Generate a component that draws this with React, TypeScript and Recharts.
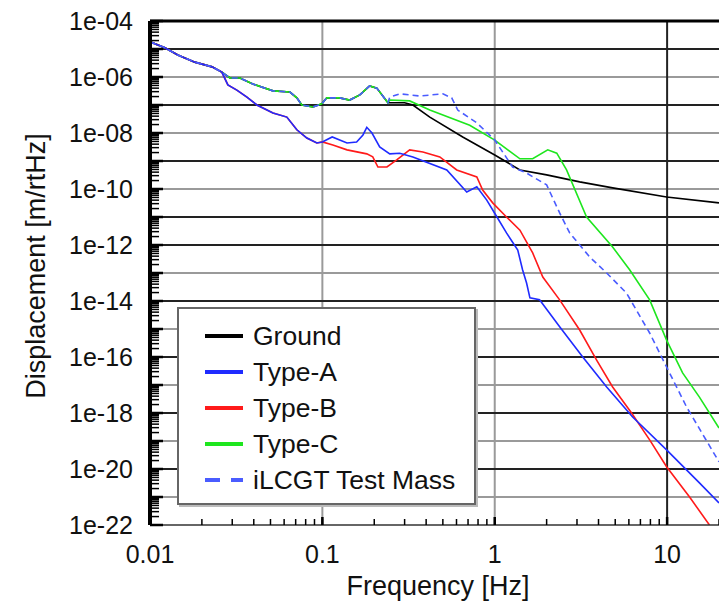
import { CartesianGrid, Legend, Line, LineChart, ReferenceLine, XAxis, YAxis } from 'recharts';

type Pt = [number, number];

// shared low-frequency part (all stages follow the ground here)
const lowShared: Pt[] = [
    [0.01, 1.8e-5], [0.0122, 1.1e-5], [0.0145, 6.1e-6], [0.0182, 3.4e-6],
    [0.0229, 2.3e-6], [0.0261, 1.5e-6],
];

// ground / Type-C / test mass plateau below 0.25 Hz
const upperPath: Pt[] = [
    [0.0291, 9.2e-7], [0.0332, 9.2e-7], [0.0395, 5.6e-7], [0.0517, 3.2e-7],
    [0.0648, 2.9e-7], [0.0711, 1.8e-7], [0.076, 1.0e-7], [0.0881, 8.5e-8],
    [0.0993, 1.1e-7], [0.106, 1.8e-7], [0.126, 1.8e-7], [0.144, 1.5e-7],
    [0.165, 2.3e-7], [0.188, 4.8e-7], [0.207, 4.0e-7], [0.24, 1.2e-7],
];

// Type-A / Type-B before they separate
const lowerPath: Pt[] = [
    [0.0283, 5.2e-7], [0.0319, 3.4e-7], [0.0365, 1.9e-7], [0.0417, 1.0e-7],
    [0.0517, 5.2e-8], [0.0622, 3.7e-8], [0.0711, 1.3e-8], [0.0813, 6.6e-9],
    [0.0929, 4.4e-9], [0.1, 4.8e-9],
];

const groundHigh: Pt[] = [
    [0.246, 1.2e-7], [0.3, 1.2e-7], [0.335, 1.0e-7], [0.42, 3.7e-8], [0.652, 7.2e-9],
    [1.0, 1.64e-9], [1.4, 4.8e-10], [2.0, 3.2e-10], [3.11, 1.8e-10],
    [4.83, 1.1e-10], [9.93, 5.2e-11], [20, 3.2e-11],
];

const typeCHigh: Pt[] = [
    [0.246, 1.5e-7], [0.321, 1.4e-7], [0.42, 6.6e-8], [0.716, 1.9e-8],
    [1.0, 5.6e-9], [1.4, 1.2e-9], [1.66, 1.2e-9], [2.03, 2.5e-9],
    [2.29, 1.9e-9], [2.61, 4.8e-10], [3.41, 1.0e-11], [4.83, 8.5e-13],
    [6.06, 1.3e-13], [7.92, 1.1e-14], [9.93, 4.0e-16], [12.3, 2.7e-17],
    [15.4, 3.7e-18], [20, 2.9e-19],
];

const testMassHigh: Pt[] = [
    [0.246, 1.9e-7], [0.281, 2.5e-7], [0.367, 2.1e-7], [0.5, 2.5e-7],
    [0.563, 1.8e-7], [0.61, 6.6e-8], [0.787, 2.3e-8], [1.0, 5.6e-9],
    [1.27, 6.1e-10], [1.53, 3.7e-10], [2.0, 1.4e-10], [2.38, 1.4e-11],
    [2.72, 2.7e-12], [3.56, 3.7e-13], [4.46, 1.0e-13], [5.82, 1.9e-14],
    [7.92, 7.2e-16], [9.93, 4.4e-17], [13.0, 1.6e-18], [20, 1.8e-20],
];

const typeBHigh: Pt[] = [
    [0.115, 3.7e-9], [0.139, 2.5e-9], [0.181, 1.8e-9], [0.196, 1.4e-9],
    [0.21, 6.1e-10], [0.237, 6.1e-10], [0.27, 1.1e-9], [0.321, 2.5e-9],
    [0.383, 2.1e-9], [0.48, 1.4e-9], [0.602, 4.8e-10], [0.787, 2.7e-10],
    [0.851, 9.2e-11], [0.973, 3.2e-11], [1.17, 1.0e-11], [1.4, 3.4e-12],
    [1.66, 5.2e-13], [1.9, 7.2e-14], [2.38, 1.1e-14], [3.11, 9.2e-16],
    [3.9, 7.8e-17], [4.83, 8.5e-18], [6.22, 1.0e-18], [7.92, 1.1e-19],
    [9.93, 1.2e-20], [13.5, 1.0e-21], [17.6, 1.0e-22],
];

const typeAHigh: Pt[] = [
    [0.114, 7.2e-9], [0.139, 4.4e-9], [0.158, 4.8e-9], [0.172, 8.5e-9],
    [0.181, 1.6e-8], [0.194, 1.0e-8], [0.215, 3.2e-9], [0.246, 1.8e-9],
    [0.281, 1.9e-9], [0.335, 1.4e-9], [0.527, 4.8e-10], [0.688, 7.8e-11],
    [0.787, 1.2e-10], [0.899, 4.0e-11], [1.03, 1.0e-11], [1.17, 2.7e-12],
    [1.36, 6.6e-13], [1.45, 1.3e-13], [1.53, 4.4e-14], [1.6, 1.3e-14],
    [1.82, 1.1e-14], [2.38, 1.2e-15], [3.24, 1.0e-16], [4.46, 8.5e-18],
    [6.31, 7.2e-19], [9.93, 4.8e-20], [15.4, 3.2e-21], [20, 6.1e-22],
];

const seriesNames = ['Ground', 'Type-A', 'Type-B', 'Type-C', 'iLCGT Test Mass'];

const xLabelTicks = [0.01, 0.1, 1, 10];
const yLabelExps = [-4, -6, -8, -10, -12, -14, -16, -18, -20, -22];
const blackGridExps = [-5, -7, -9, -11, -12, -14, -16, -18, -20];
const grayGridExps = [-6, -8, -10, -13, -15, -17, -19, -21];

const FONT = '"Liberation Sans", Arial, sans-serif';

const toRows = (pts: Pt[]) => pts.map(([f, v]) => ({ f, v }));

const groundData = toRows([...lowShared, ...upperPath, ...groundHigh]);
const typeCData = toRows([...lowShared, ...upperPath, ...typeCHigh]);
const testMassData = toRows([...lowShared, ...upperPath, ...testMassHigh]);
const typeBData = toRows([...lowShared, ...lowerPath, ...typeBHigh]);
const typeAData = toRows([...lowShared, ...lowerPath, ...typeAHigh]);

// minor ticks at 1..9 of each decade
const decadeTicks = (from: number, to: number) => {
    const out: number[] = [];
    for (let e = from; e < to; e++) {
        for (let m = 1; m <= 9; m++) out.push(m * Math.pow(10, e));
    }
    return out;
};
const xTicks = [...decadeTicks(-2, 1), 10, 20];
const yTicks = [...decadeTicks(-22, -4), 1e-4];

const isDecade = (v: number) => {
    const e = Math.round(Math.log10(v));
    return Math.abs(v / Math.pow(10, e) - 1) < 1e-6;
};

const formatExp = (v: number) => {
    const e = Math.round(Math.log10(v));
    return `1e-${String(-e).padStart(2, '0')}`;
};

// x arrives at the inner end of the (inward) tick line: plot left + 9
const YTick = ({ x, y, payload }: any) => {
    const v = payload.value;
    const major = isDecade(v);
    const e = Math.round(Math.log10(v));
    const showLabel = major && yLabelExps.includes(e);
    return (
        <g>
            {major && <line x1={x - 9} x2={x + 4} y1={y} y2={y} stroke="#000" strokeWidth={2.5} />}
            {showLabel && (
                <text x={x - 26} y={y} textAnchor="end" dominantBaseline="central" fontSize={25} fontFamily={FONT} fill="#111">
                    {formatExp(v)}
                </text>
            )}
        </g>
    );
};

// y arrives at the inner end of the tick line: plot bottom - 6
const XTick = ({ x, y, payload }: any) => {
    const v = payload.value;
    const major = isDecade(v);
    const showLabel = xLabelTicks.some((t) => Math.abs(t - v) < 1e-9);
    return (
        <g>
            {major && <line x1={x} x2={x} y1={y + 6} y2={y - 2} stroke="#000" strokeWidth={2.5} />}
            {showLabel && (
                <text x={x} y={y + 44} textAnchor="middle" fontSize={25} fontFamily={FONT} fill="#111">
                    {String(v)}
                </text>
            )}
        </g>
    );
};

const XTitle = () => (
    <text x={438} y={595} textAnchor="middle" fontSize={27} fontFamily={FONT} fill="#111">
        Frequency [Hz]
    </text>
);

const YTitle = () => (
    <text x={36} y={266} transform="rotate(-90 36 266)" textAnchor="middle" dominantBaseline="central" fontSize={27} fontFamily={FONT} fill="#111">
        Displacement [m/rtHz]
    </text>
);

const LegendBox = ({ payload }: any) => {
    const items = [...(payload ?? [])].sort(
        (a: any, b: any) => seriesNames.indexOf(a.value) - seriesNames.indexOf(b.value),
    );
    return (
        <div
            style={{
                width: 299,
                height: 198,
                boxSizing: 'border-box',
                border: '2px solid #666',
                boxShadow: '2px 2px 0 #bbb',
                background: '#fff',
                paddingTop: 9,
                fontFamily: FONT,
            }}
        >
            {items.map((item: any) => (
                <div key={item.value} style={{ display: 'flex', alignItems: 'center', height: 36 }}>
                    <svg width={38} height={6} style={{ marginLeft: 26 }}>
                        <line
                            x1={0}
                            x2={38}
                            y1={3}
                            y2={3}
                            stroke={item.color}
                            strokeWidth={4}
                            strokeDasharray={item.payload?.strokeDasharray ? '15 11' : undefined}
                        />
                    </svg>
                    <span style={{ marginLeft: 10, fontSize: 26.5, color: '#111', lineHeight: 1 }}>{item.value}</span>
                </div>
            ))}
        </div>
    );
};

export default function App() {
    return (
        <div style={{ position: 'absolute', left: 0, top: 0, width: 719, height: 605, background: '#fff', overflow: 'hidden' }}>
            <LineChart width={719} height={605} margin={{ top: 21, right: 0, bottom: 0, left: 0 }}>
                <CartesianGrid
                    horizontalValues={grayGridExps.map((e) => Math.pow(10, e))}
                    verticalValues={[0.1, 1]}
                    stroke="#9a9a9a"
                    strokeWidth={2}
                />
                <CartesianGrid
                    horizontalValues={blackGridExps.map((e) => Math.pow(10, e))}
                    verticalValues={[10]}
                    stroke="#222"
                    strokeWidth={2}
                />
                <XAxis
                    type="number"
                    dataKey="f"
                    scale="log"
                    domain={[0.01, 20]}
                    allowDataOverflow
                    ticks={xTicks}
                    interval={0}
                    tick={<XTick />}
                    tickLine={{ stroke: '#000', strokeWidth: 1.5 }}
                    tickSize={-6}
                    tickMargin={0}
                    height={80}
                    axisLine={{ stroke: '#333', strokeWidth: 1.5 }}
                    label={{ value: 'Frequency [Hz]', content: XTitle }}
                />
                <YAxis
                    type="number"
                    dataKey="v"
                    scale="log"
                    domain={[1e-22, 1e-4]}
                    allowDataOverflow
                    ticks={yTicks}
                    interval={0}
                    tick={<YTick />}
                    tickLine={{ stroke: '#000', strokeWidth: 1.5 }}
                    tickSize={-9}
                    tickMargin={0}
                    width={150}
                    axisLine={{ stroke: '#000', strokeWidth: 4 }}
                    label={{ value: 'Displacement [m/rtHz]', content: YTitle }}
                />
                <ReferenceLine y={1e-4} stroke="#000" strokeWidth={3} />
                <Line data={groundData} dataKey="v" name="Ground" stroke="#000000" strokeWidth={1.6} dot={false} isAnimationActive={false} />
                <Line data={typeCData} dataKey="v" name="Type-C" stroke="#1ee61e" strokeWidth={1.6} dot={false} isAnimationActive={false} />
                <Line data={typeBData} dataKey="v" name="Type-B" stroke="#ff1a1a" strokeWidth={1.6} dot={false} isAnimationActive={false} />
                <Line data={typeAData} dataKey="v" name="Type-A" stroke="#1f2bff" strokeWidth={1.6} dot={false} isAnimationActive={false} />
                <Line
                    data={testMassData}
                    dataKey="v"
                    name="iLCGT Test Mass"
                    stroke="#4a5cff"
                    strokeWidth={1.6}
                    strokeDasharray="6 4"
                    dot={false}
                    isAnimationActive={false}
                />
                <Legend
                    content={<LegendBox />}
                    layout="vertical"
                    align="center"
                    verticalAlign="middle"
                    wrapperStyle={{ left: 177, top: 307, width: 299, height: 198 }}
                />
            </LineChart>
        </div>
    );
}
